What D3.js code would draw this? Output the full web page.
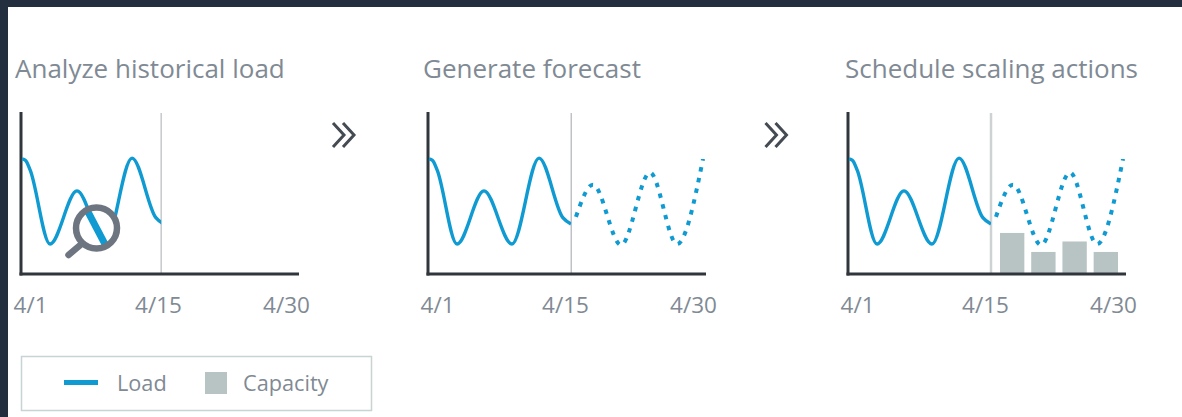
<!DOCTYPE html>
<html>
<head>
<meta charset="utf-8">
<script src="https://cdn.jsdelivr.net/npm/d3@7"></script>
<style>
  html, body { margin: 0; padding: 0; background: #232f3e; overflow: hidden; }
  svg { display: block; }
  text { font-family: "Open Sans", sans-serif; fill: #7f8a94; }
</style>
</head>
<body>
<svg id="chart" width="1182" height="417"></svg>
<script>
// Load history and forecast: day of April, load as a share of the y range
const historyDays = [1.1, 1.45, 1.9, 3.84, 6.48, 9.22, 11.87, 14.2, 15];
const historyLoad = [71.5, 70.5, 64.5, 18.6, 51.6, 18.6, 72, 35, 31];
const forecastDays = [15.55, 17.44, 20.56, 23.78, 26.78, 29.67];
const forecastLoad = [35.5, 55.5, 18, 63, 18.6, 71.5];

// Scheduled capacity blocks in the forecast window
const capacityPeriods = ["P1", "P2", "P3", "P4"];
const capacityValues = [25.5, 13.7, 20.2, 13.7];

const tickDays = [1, 15, 30];
const legendLabels = ["Load", "Capacity"];
const legendLabelX = [117, 243];

const panelTitles = ["Analyze historical load", "Generate forecast", "Schedule scaling actions"];
const panelAxisX = [21, 428, 848];
const panelTitleX = [15, 423, 845];
const panelSplitDay = [14.72, 15.02, 15];
const panelSplitWidth = [1, 1, 2.5];
const panelSplitColor = ["#a9adb1", "#a0a4a8", "#cfd2d3"];
const chevronX = [333, 765.5];

const BLUE = "#0f9ad2", AXIS = "#31363d", BAR = "#b8c4c4", RING = "#6d7580";
const plotTop = 113, plotBase = 274;

const svg = d3.select("#chart");
svg.append("rect").attr("x", 8).attr("y", 7).attr("width", 1174).attr("height", 410).attr("fill", "#fff");

const x = d3.scaleLinear().domain(tickDays).range([0, 143, 278]);
const labelX = d3.scaleLinear().domain(tickDays).range([9, 137, 265]);
const y = d3.scaleLinear().domain([0, 100]).range([plotBase, plotTop]);
const line = d3.line().x(d => x(d[0])).y(d => y(d[1])).curve(d3.curveMonotoneX);
const history = d3.zip(historyDays, historyLoad);
const forecast = d3.zip(forecastDays, forecastLoad);

const defs = svg.append("defs");

panelTitles.forEach((title, i) => {
  const g = svg.append("g").attr("transform", `translate(${panelAxisX[i]},0)`);
  const splitX = x(panelSplitDay[i]);

  svg.append("text").text(title)
    .attr("x", panelTitleX[i]).attr("y", 78)
    .attr("font-size", 26);

  // Capacity blocks sit under the axes and the load line
  if (i === 2) {
    const band = d3.scaleBand().domain(capacityPeriods).range([152, 270]).paddingInner(0.22);
    g.selectAll("rect.capacity").data(capacityValues).join("rect")
      .attr("class", "capacity")
      .attr("x", (d, k) => band(capacityPeriods[k]))
      .attr("width", band.bandwidth())
      .attr("y", d => y(d))
      .attr("height", d => y(0) - y(d))
      .attr("fill", BAR);
  }

  // Divider between history and the forecast window
  g.append("line")
    .attr("x1", splitX).attr("x2", splitX).attr("y1", plotTop).attr("y2", plotBase)
    .attr("stroke", panelSplitColor[i]).attr("stroke-width", panelSplitWidth[i]);

  const clipId = `history-clip-${i}`;
  defs.append("clipPath").attr("id", clipId).append("rect")
    .attr("x", panelAxisX[i]).attr("y", 0).attr("width", splitX).attr("height", 417);
  svg.append("g").attr("clip-path", `url(#${clipId})`)
    .append("path")
    .attr("transform", `translate(${panelAxisX[i]},0)`)
    .attr("d", line(history))
    .attr("fill", "none").attr("stroke", BLUE).attr("stroke-width", 3.4);

  if (i > 0) {
    g.append("path").attr("d", line(forecast))
      .attr("fill", "none").attr("stroke", BLUE).attr("stroke-width", 4)
      .attr("stroke-dasharray", "4.5 6.5");
  }

  // Axes
  g.append("line").attr("x1", 0).attr("x2", 0).attr("y1", 112).attr("y2", plotBase + 1.5)
    .attr("stroke", AXIS).attr("stroke-width", 3);
  g.append("line").attr("x1", -1.5).attr("x2", x(30)).attr("y1", plotBase).attr("y2", plotBase)
    .attr("stroke", AXIS).attr("stroke-width", 3);

  const axis = g.append("g").attr("transform", `translate(0,${plotBase})`)
    .call(d3.axisBottom(labelX).tickValues(tickDays).tickFormat(d => `4/${d}`).tickSize(0).tickPadding(23));
  axis.select(".domain").remove();
  axis.selectAll("text").attr("font-size", 22.5)
    .style("font-family", '"Open Sans", sans-serif').attr("fill", "#7f8a94");
});

// Magnifier over the first panel's falling stretch
const lensX = 96.5, lensY = 228, lensR = 20.5;
const lens = svg.append("g");
defs.append("clipPath").attr("id", "lens-clip").append("circle")
  .attr("cx", lensX).attr("cy", lensY).attr("r", lensR);
lens.append("line")
  .attr("x1", lensX - 15).attr("y1", lensY + 16).attr("x2", lensX - 28).attr("y2", lensY + 27)
  .attr("stroke", RING).attr("stroke-width", 6.5).attr("stroke-linecap", "round");
lens.append("circle").attr("cx", lensX).attr("cy", lensY).attr("r", lensR).attr("fill", "#fff");
const lensInner = lens.append("g").attr("clip-path", "url(#lens-clip)");
lensInner.append("path")
  .attr("transform", `translate(${panelAxisX[0]},0)`)
  .attr("d", line(history.slice(4, 6)))
  .attr("fill", "none").attr("stroke", BLUE).attr("stroke-width", 7);
lens.append("circle").attr("cx", lensX).attr("cy", lensY).attr("r", lensR)
  .attr("fill", "none").attr("stroke", RING).attr("stroke-width", 6.5);

// Double chevrons between the panels
chevronX.forEach(cx => {
  [0, 10].forEach(dx => {
    svg.append("path")
      .attr("d", d3.line()([[cx + dx, 123], [cx + dx + 11, 135], [cx + dx, 147]]))
      .attr("fill", "none").attr("stroke", "#444b53").attr("stroke-width", 3);
  });
});

// Legend
const legend = svg.append("g");
legend.append("rect").attr("x", 21.5).attr("y", 356.5).attr("width", 350).attr("height", 54)
  .attr("fill", "#fff").attr("stroke", "#c8d3d3").attr("stroke-width", 1.5);
legend.append("line").attr("x1", 64).attr("x2", 98).attr("y1", 382.5).attr("y2", 382.5)
  .attr("stroke", BLUE).attr("stroke-width", 5);
legend.append("rect").attr("x", 205).attr("y", 372).attr("width", 22).attr("height", 22).attr("fill", BAR);
legend.selectAll("text").data(legendLabels).join("text")
  .text(d => d)
  .attr("x", (d, i) => legendLabelX[i]).attr("y", 391)
  .attr("font-size", 21.7);
</script>
</body>
</html>
